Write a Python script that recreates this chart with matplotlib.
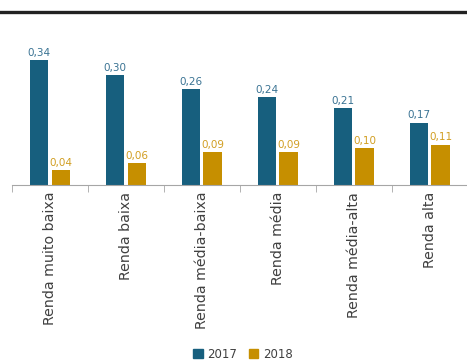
import matplotlib
matplotlib.use("Agg")
import matplotlib.pyplot as plt
from matplotlib.lines import Line2D
from matplotlib.patches import Patch
import numpy as np

# ── Dados ─────────────────────────────────────────────────────────────────────
categorias = ["Renda muito baixa", "Renda baixa", "Renda média-baixa",
              "Renda média", "Renda média-alta", "Renda alta"]
valores_2017 = [0.34, 0.30, 0.26, 0.24, 0.21, 0.17]
valores_2018 = [0.04, 0.06, 0.09, 0.09, 0.10, 0.11]

COR_2017 = "#175f7e"
COR_2018 = "#c68f00"
COR_ROT_2017 = "#3a7393"
COR_ROT_2018 = "#d19e22"

# ── Figura ────────────────────────────────────────────────────────────────────
fig = plt.figure(figsize=(4.67, 3.63), dpi=100)
ax = fig.add_axes([12 / 467, 1 - 185 / 363, 1 - 12 / 467 + 0.002, (185 - 19.6) / 363])

x = np.arange(len(categorias))
larg = 0.24
b1 = ax.bar(x - larg / 2 - 0.02, valores_2017, larg, color=COR_2017)
b2 = ax.bar(x + larg / 2 + 0.02, valores_2018, larg, color=COR_2018)

for barras, cor in ((b1, COR_ROT_2017), (b2, COR_ROT_2018)):
    for r in barras:
        ax.text(r.get_x() + r.get_width() / 2, r.get_height() + 0.006,
                f"{r.get_height():.2f}".replace(".", ","),
                ha="center", va="bottom", fontsize=7.5, color=cor)

ax.set_xlim(-0.5, len(categorias) - 0.5)
ax.set_ylim(0, 0.45)

for s in ("top", "right", "left"):
    ax.spines[s].set_visible(False)
ax.spines["bottom"].set_color("#a6a6a6")
ax.set_yticks([])

ax.set_xticks(x)
ax.set_xticklabels(categorias, rotation=90, fontsize=10.2, color="#404040")
ax.tick_params(axis="x", which="major", length=0, pad=5)
ax.set_xticks(np.arange(-0.5, len(categorias)), minor=True)
ax.tick_params(axis="x", which="minor", length=5, color="#a6a6a6", direction="out")

# linha superior
fig.add_artist(Line2D([1 / 467, 466 / 467], [1 - 12 / 363, 1 - 12 / 363],
                      color="#222222", lw=2.4, transform=fig.transFigure))

# legenda
handles = [Patch(color=COR_2017, label="2017"), Patch(color=COR_2018, label="2018")]
fig.legend(handles=handles, loc="center", bbox_to_anchor=(243 / 467, 1 - 354 / 363),
           ncol=2, frameon=False, fontsize=8.5, handlelength=0.8, handleheight=0.8,
           handletextpad=0.4, columnspacing=1.0, labelcolor="#404040")

fig.savefig("out.png", dpi=100)
